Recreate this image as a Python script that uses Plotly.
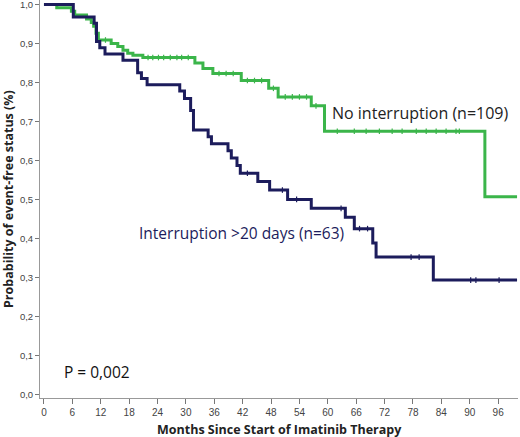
import plotly.graph_objects as go

# --- data (Kaplan-Meier steps) ---
green_t = [0, 2.7, 5.8, 6.5, 9.0, 10.0, 10.5, 11.0, 11.5, 14.2, 15.6, 16.7, 17.7, 18.8, 20.9,
           31.9, 33.6, 35.7, 41.7, 47.5, 49.5, 56.5, 59.3, 93.2, 100.0]
green_s = [1.0, 0.992, 0.983, 0.973, 0.963, 0.954, 0.944, 0.926, 0.909, 0.900, 0.892, 0.883, 0.875,
           0.870, 0.864, 0.850, 0.836, 0.823, 0.805, 0.785, 0.763, 0.740, 0.675, 0.507, 0.507]
green_cens_t = [13.0, 22.0, 23.0, 24.2, 25.3, 26.7, 28.1, 29.1, 30.5, 37.0, 38.5, 40.0, 43.0, 44.5,
                46.0, 48.5, 51.0, 52.5, 54.0, 55.5, 57.5, 62.0, 65.6, 68.1, 70.9, 73.6, 75.7, 78.7,
                80.8, 82.9, 85.0, 87.1, 87.8]
green_cens_s = [0.909, 0.864, 0.864, 0.864, 0.864, 0.864, 0.864, 0.864, 0.864, 0.823, 0.823, 0.823,
                0.805, 0.805, 0.805, 0.785, 0.763, 0.763, 0.763, 0.763, 0.740, 0.675, 0.675, 0.675,
                0.675, 0.675, 0.675, 0.675, 0.675, 0.675, 0.675, 0.675, 0.675]

navy_t = [0, 6.2, 10.6, 11.1, 11.8, 12.9, 16.7, 19.8, 20.6, 21.8, 28.7, 29.7, 31.0, 31.6, 34.7,
          35.4, 38.9, 39.6, 40.8, 41.5, 45.2, 47.7, 51.5, 56.5, 63.7, 65.6, 69.5, 70.2, 82.3, 100.0]
navy_s = [1.0, 0.968, 0.952, 0.905, 0.889, 0.873, 0.857, 0.825, 0.810, 0.794, 0.778, 0.759, 0.728,
          0.678, 0.661, 0.643, 0.625, 0.606, 0.587, 0.567, 0.546, 0.524, 0.500, 0.477, 0.454,
          0.425, 0.388, 0.352, 0.293, 0.293]
navy_cens_t = [43.0, 50.4, 53.4, 62.8, 66.7, 68.4, 77.6, 79.3, 90.2, 91.3, 96.2]
navy_cens_s = [0.567, 0.524, 0.500, 0.477, 0.425, 0.425, 0.352, 0.352, 0.293, 0.293, 0.293]

x_ticks = list(range(0, 97, 6))
y_ticks = [i / 10 for i in range(11)]

GREEN = "#3bb54a"
NAVY = "#1c1c5c"

fig = go.Figure()
fig.add_trace(go.Scatter(x=green_t, y=green_s, mode="lines", line=dict(color=GREEN, width=3, shape="hv"),
                         hoverinfo="skip"))
fig.add_trace(go.Scatter(x=navy_t, y=navy_s, mode="lines", line=dict(color=NAVY, width=3, shape="hv"),
                         hoverinfo="skip"))
fig.add_trace(go.Scatter(x=green_cens_t, y=green_cens_s, mode="markers",
                         marker=dict(symbol="line-ns-open", size=4, color=GREEN,
                                     line=dict(color=GREEN, width=1.2))))
fig.add_trace(go.Scatter(x=navy_cens_t, y=navy_cens_s, mode="markers",
                         marker=dict(symbol="line-ns-open", size=4, color=NAVY,
                                     line=dict(color=NAVY, width=1.2))))

fig.add_annotation(x=60.4, y=0.722, text="No interruption (n=109)", showarrow=False, xanchor="left",
                   yanchor="middle", font=dict(family="Open Sans", size=16, color="#222222"))
fig.add_annotation(x=19.7, y=0.413, text="Interruption >20 days (n=63)", showarrow=False, xanchor="left",
                   yanchor="middle", font=dict(family="Open Sans", size=15.5, color=NAVY))
fig.add_annotation(x=3.8, y=0.058, text="P = 0,002", showarrow=False, xanchor="left",
                   yanchor="middle", font=dict(family="Open Sans", size=15.5, color="#111111"))

# axis titles placed as paper annotations
fig.add_annotation(xref="paper", yref="paper", x=0.5, y=-32 / 398, xanchor="center", yanchor="middle",
                   showarrow=False, text="<b>Months Since Start of Imatinib Therapy</b>",
                   font=dict(family="Open Sans", size=12.5, color="#222222"))
fig.add_annotation(xref="paper", yref="paper", x=-32 / 478, y=0.5, xanchor="center", yanchor="middle",
                   showarrow=False, textangle=-90, text="<b>Probability of event-free status (%)</b>",
                   font=dict(family="Open Sans", size=12.5, color="#222222"))

fig.update_layout(
    width=520, height=437,
    margin=dict(l=40, r=2, t=0, b=39, autoexpand=False),
    paper_bgcolor="white", plot_bgcolor="white",
    showlegend=False,
    separators=",.",
    xaxis=dict(range=[-0.84, 100.2], tickvals=x_ticks, ticks="outside", ticklen=5, tickcolor="#777777",
               showline=True, linecolor="#999999", linewidth=1, showgrid=False, zeroline=False,
               automargin=False, ticklabeloverflow="allow",
               tickfont=dict(family="Liberation Sans", size=10, color="#444444")),
    yaxis=dict(range=[-0.0095, 1.0116], tickvals=y_ticks, tickformat=".1f", ticks="outside", ticklen=4,
               tickcolor="#777777", showline=True, linecolor="#999999", linewidth=1, showgrid=False,
               zeroline=False, automargin=False, ticklabeloverflow="allow",
               tickfont=dict(family="Liberation Sans", size=9.5, color="#444444")),
)

fig.write_html("out.html", config={"displayModeBar": False},
               post_script="document.body.style.margin='0';")
